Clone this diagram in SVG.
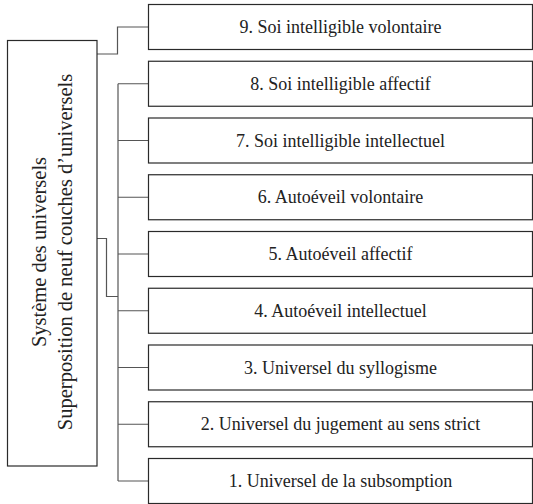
<svg xmlns="http://www.w3.org/2000/svg" width="533" height="504" viewBox="0 0 533 504">
<style>
.box{fill:#fff;stroke:#2a2a2a;stroke-width:1.2}
.lbl{font-size:18px;fill:#222;text-anchor:middle}
.side{font-size:20.5px;fill:#222;text-anchor:middle}
.con{fill:none;stroke:#555;stroke-width:1.2}
</style>
<rect width="533" height="504" fill="#fff"/>
<g id="connectors">
<path class="con" d="M97,54 H117.5 V27 H148.5"/>
<path class="con" d="M97,238.5 H106.5 V296.5 H118"/>
<path class="con" d="M118,83.75 V481"/>
<path class="con" d="M118,83.75 H148.5 M118,140.5 H148.5 M118,197.25 H148.5 M118,254 H148.5 M118,310.75 H148.5 M118,367.5 H148.5 M118,424.25 H148.5 M118,481 H148.5"/>
</g>
<g id="root" font-family="Liberation Serif, Times New Roman, DejaVu Serif, serif">
<rect class="box" x="7.5" y="40.5" width="89.5" height="425.5"/>
<text class="side" transform="translate(45.5,252) rotate(-90)">Système des universels</text>
<text class="side" transform="translate(71.5,252) rotate(-90)">Superposition de neuf couches d’universels</text>
</g>
<g id="nodes" font-family="Liberation Serif, Times New Roman, DejaVu Serif, serif">
<g id="n9"><rect class="box" x="148.5" y="4.5" width="384" height="45"/><text class="lbl" x="340.5" y="33">9. Soi intelligible volontaire</text></g>
<g id="n8"><rect class="box" x="148.5" y="61.25" width="384" height="45"/><text class="lbl" x="340.5" y="89.75">8. Soi intelligible affectif</text></g>
<g id="n7"><rect class="box" x="148.5" y="118" width="384" height="45"/><text class="lbl" x="340.5" y="146.5">7. Soi intelligible intellectuel</text></g>
<g id="n6"><rect class="box" x="148.5" y="174.75" width="384" height="45"/><text class="lbl" x="340.5" y="203.25">6. Autoéveil volontaire</text></g>
<g id="n5"><rect class="box" x="148.5" y="231.5" width="384" height="45"/><text class="lbl" x="340.5" y="260">5. Autoéveil affectif</text></g>
<g id="n4"><rect class="box" x="148.5" y="288.25" width="384" height="45"/><text class="lbl" x="340.5" y="316.75">4. Autoéveil intellectuel</text></g>
<g id="n3"><rect class="box" x="148.5" y="345" width="384" height="45"/><text class="lbl" x="340.5" y="373.5">3. Universel du syllogisme</text></g>
<g id="n2"><rect class="box" x="148.5" y="401.75" width="384" height="45"/><text class="lbl" x="340.5" y="430.25">2. Universel du jugement au sens strict</text></g>
<g id="n1"><rect class="box" x="148.5" y="458.5" width="384" height="45"/><text class="lbl" x="340.5" y="487">1. Universel de la subsomption</text></g>
</g>
</svg>
